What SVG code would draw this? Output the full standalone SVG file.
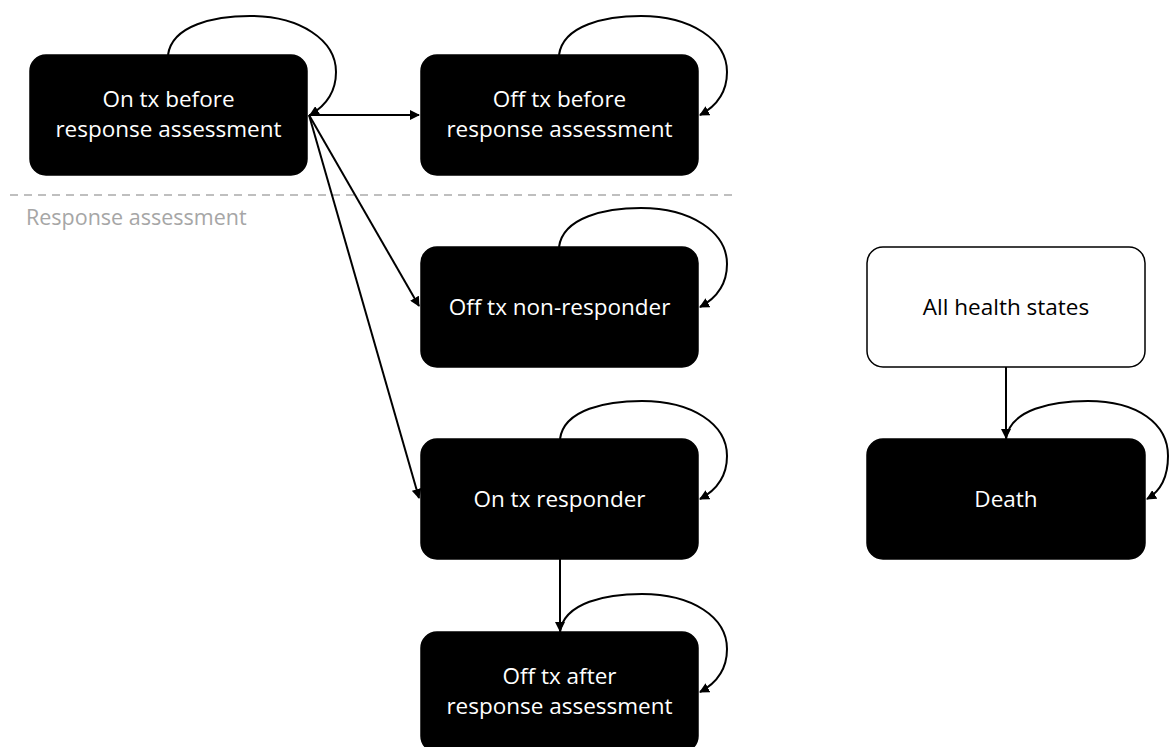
<svg xmlns="http://www.w3.org/2000/svg" width="1169" height="747" viewBox="0 0 1169 747">
<style>
.box{fill:#000;stroke:#000;stroke-width:1.5}
.wbox{fill:#fff;stroke:#000;stroke-width:1.5}
.t{font-family:"Open Sans","Noto Sans",sans-serif;font-size:22.5px;fill:#fff;text-anchor:middle}
.tb{font-family:"Open Sans","Noto Sans",sans-serif;font-size:22.5px;fill:#000;text-anchor:middle}
.e{fill:none;stroke:#000;stroke-width:2;marker-end:url(#ah)}
</style>
<defs>
<marker id="ah" viewBox="0 0 10 10" refX="9" refY="5" markerWidth="5" markerHeight="5" orient="auto" markerUnits="strokeWidth">
<path d="M0,0 L10,5 L0,10 z" fill="#000"/>
</marker>
</defs>
<rect width="1169" height="747" fill="#fff"/>
<line x1="10" y1="195" x2="733" y2="195" stroke="#bfbfbf" stroke-width="2" stroke-dasharray="8,6"/>
<text x="26" y="225" font-family="Open Sans, Noto Sans, sans-serif" font-size="21.5" fill="#a6a6a6">Response assessment</text>
<g id="n1"><rect class="box" x="30" y="55" width="277" height="120" rx="16"/><text class="t" x="168.5" y="107">On tx before</text><text class="t" x="168.5" y="137">response assessment</text></g>
<g id="n2"><rect class="box" x="421" y="55" width="277" height="120" rx="16"/><text class="t" x="559.5" y="107">Off tx before</text><text class="t" x="559.5" y="137">response assessment</text></g>
<g id="n3"><rect class="box" x="421" y="247" width="277" height="120" rx="16"/><text class="t" x="559.5" y="315">Off tx non-responder</text></g>
<g id="n4"><rect class="box" x="421" y="439" width="277" height="120" rx="16"/><text class="t" x="559.5" y="507">On tx responder</text></g>
<g id="n5"><rect class="box" x="421" y="632" width="277" height="120" rx="16"/><text class="t" x="559.5" y="684">Off tx after</text><text class="t" x="559.5" y="714">response assessment</text></g>
<g id="n6"><rect class="wbox" x="867" y="247" width="278" height="120" rx="16"/><text class="tb" x="1006" y="315">All health states</text></g>
<g id="n7"><rect class="box" x="867" y="439" width="278" height="120" rx="16"/><text class="t" x="1006" y="507">Death</text></g>
<g id="edges">
<path class="e" d="M309,115 L419,115"/>
<path class="e" d="M309,115 L419,306"/>
<path class="e" d="M309,115 L419,498"/>
<path class="e" d="M560,559 L560,631"/>
<path class="e" d="M1006,367 L1006,438"/>
<path class="e" d="M168,55 C172,25 215,16 250,16 C300,16 336,40 336,72 C336,95 322,108 310,115"/>
<path class="e" d="M559,55 C563,25 606,16 641,16 C691,16 727,40 727,72 C727,95 713,108 700,115"/>
<path class="e" d="M559,247 C563,217 606,208 641,208 C691,208 727,232 727,264 C727,287 713,300 700,307"/>
<path class="e" d="M560,439 C564,409 607,401 642,401 C692,401 727,424 727,456 C727,479 713,492 700,499"/>
<path class="e" d="M560,632 C564,602 607,594 642,594 C692,594 727,617 727,649 C727,672 713,685 700,692"/>
<path class="e" d="M1006,439 C1010,409 1053,401 1088,401 C1138,401 1168,424 1168,456 C1168,479 1159,492 1147,499"/>
</g>
</svg>
